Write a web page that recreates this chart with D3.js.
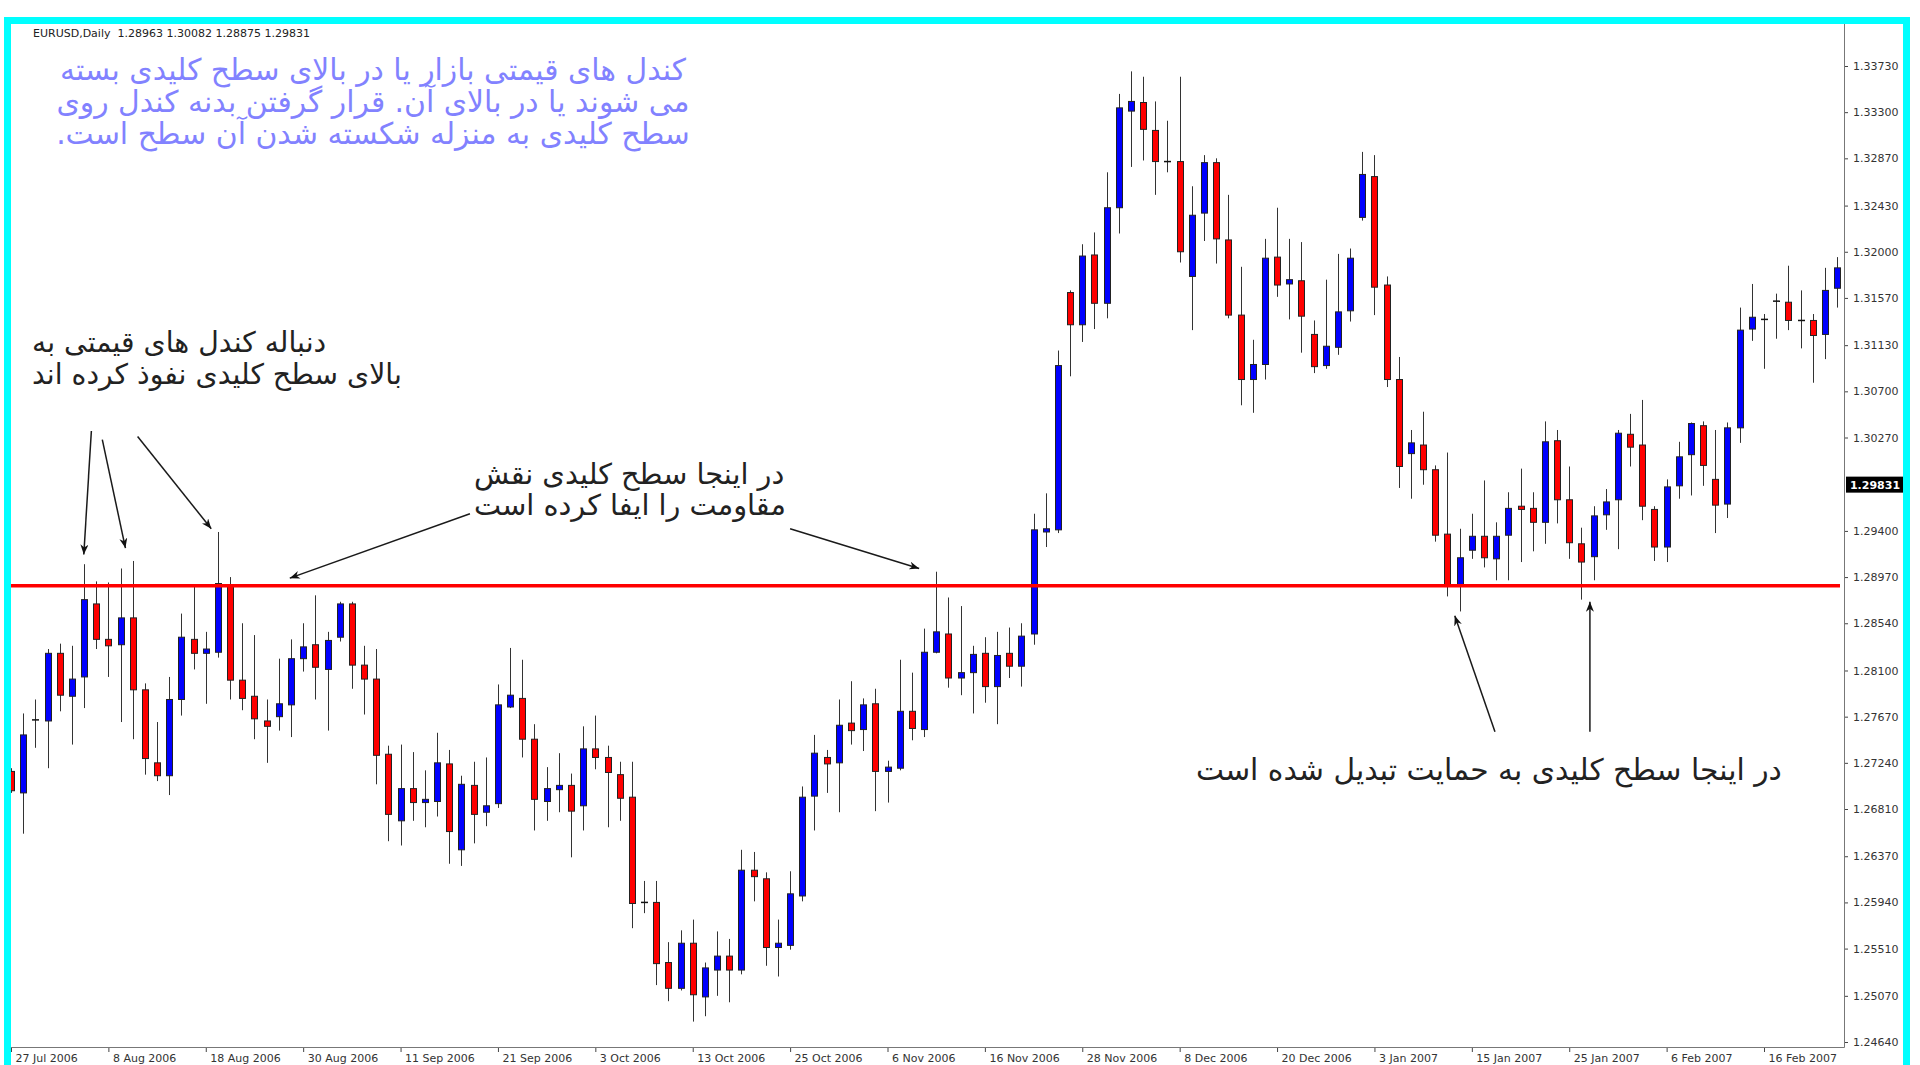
<!DOCTYPE html>
<html>
<head>
<meta charset="utf-8">
<script src="https://cdn.jsdelivr.net/npm/d3@7/dist/d3.min.js"></script>
<style>
html, body { margin: 0; padding: 0; background: #fff; }
svg { display: block; }
</style>
</head>
<body>
<div id="chart"></div>
<script>
// daily bars, 27 Jul 2006 .. 23 Feb 2007 (bar index 0..150)
var opens = [1.2716,1.2696,1.2764,1.2763,1.2826,1.2786,1.2804,1.2872,1.2839,1.2834,
	1.2859,1.2792,1.2724,1.2712,1.2783,1.2839,1.2826,1.2827,1.2889,1.2801,
	1.2786,1.2763,1.2767,1.2778,1.2821,1.2834,1.2811,1.2841,1.2872,1.2815,
	1.2802,1.2732,1.2670,1.2700,1.2687,1.2688,1.2723,1.2643,1.2703,1.2678,
	1.2686,1.2776,1.2784,1.2746,1.2688,1.2699,1.2703,1.2684,1.2737,1.2729,
	1.2713,1.2692,1.2594,1.2594,1.2538,1.2514,1.2556,1.2506,1.2531,1.2544,
	1.2531,1.2624,1.2616,1.2552,1.2554,1.2600,1.2693,1.2729,1.2724,1.2761,
	1.2755,1.2779,1.2716,1.2719,1.2772,1.2755,1.2827,1.2844,1.2803,1.2808,
	1.2826,1.2795,1.2826,1.2814,1.2844,1.2939,1.2941,1.3162,1.3132,1.3197,
	1.3152,1.3241,1.3331,1.3339,1.3313,1.3284,1.3284,1.3177,1.3236,1.3283,
	1.3211,1.3141,1.3081,1.3095,1.3195,1.3170,1.3173,1.3123,1.3094,1.3111,
	1.3145,1.3232,1.3270,1.3169,1.3081,1.3012,1.3020,1.2997,1.2937,1.2890,
	1.2922,1.2935,1.2914,1.2936,1.2963,1.2961,1.2948,1.3024,1.2969,1.2928,
	1.2916,1.2955,1.2969,1.3030,1.3020,1.2960,1.2925,1.2982,1.3011,1.3038,
	1.2988,1.2965,1.3036,1.3128,1.3137,1.3154,1.3153,1.3136,1.3136,1.3123,
	1.3166];
var highs = [1.2719,1.2770,1.2783,1.2830,1.2835,1.2833,1.2909,1.2893,1.2892,1.2905,
	1.2912,1.2798,1.2762,1.2804,1.2863,1.2888,1.2846,1.2939,1.2897,1.2854,
	1.2843,1.2783,1.2821,1.2839,1.2854,1.2880,1.2846,1.2874,1.2874,1.2833,
	1.2830,1.2740,1.2741,1.2734,1.2717,1.2752,1.2736,1.2712,1.2725,1.2729,
	1.2797,1.2831,1.2820,1.2760,1.2720,1.2733,1.2714,1.2758,1.2768,1.2740,
	1.2725,1.2725,1.2614,1.2614,1.2557,1.2568,1.2578,1.2538,1.2567,1.2560,
	1.2643,1.2641,1.2622,1.2578,1.2623,1.2702,1.2750,1.2736,1.2783,1.2800,
	1.2784,1.2793,1.2726,1.2820,1.2808,1.2849,1.2902,1.2878,1.2870,1.2833,
	1.2841,1.2846,1.2850,1.2854,1.2956,1.2975,1.3108,1.3164,1.3207,1.3218,
	1.3274,1.3347,1.3368,1.3363,1.3340,1.3322,1.3363,1.3261,1.3290,1.3287,
	1.3253,1.3186,1.3118,1.3212,1.3241,1.3212,1.3209,1.3136,1.3174,1.3198,
	1.3203,1.3293,1.3290,1.3177,1.3102,1.3034,1.3051,1.3001,1.3013,1.2942,
	1.2956,1.2987,1.2948,1.2976,1.2998,1.2976,1.3042,1.3034,1.3000,1.2943,
	1.2963,1.2979,1.3034,1.3049,1.3062,1.2963,1.2988,1.3023,1.3041,1.3042,
	1.3034,1.3041,1.3148,1.3170,1.3142,1.3161,1.3187,1.3164,1.3142,1.3185,
	1.3195];
var lows = [1.2696,1.2658,1.2738,1.2719,1.2772,1.2741,1.2775,1.2830,1.2804,1.2762,
	1.2746,1.2713,1.2707,1.2694,1.2768,1.2811,1.2779,1.2822,1.2783,1.2773,
	1.2746,1.2724,1.2754,1.2748,1.2809,1.2783,1.2754,1.2837,1.2793,1.2769,
	1.2704,1.2651,1.2647,1.2670,1.2664,1.2674,1.2630,1.2628,1.2649,1.2665,
	1.2682,1.2775,1.2729,1.2661,1.2670,1.2678,1.2636,1.2661,1.2718,1.2664,
	1.2670,1.2570,1.2584,1.2517,1.2502,1.2512,1.2483,1.2488,1.2507,1.2501,
	1.2527,1.2595,1.2535,1.2525,1.2550,1.2595,1.2661,1.2696,1.2678,1.2741,
	1.2735,1.2679,1.2687,1.2717,1.2745,1.2748,1.2826,1.2794,1.2787,1.2770,
	1.2780,1.2760,1.2803,1.2795,1.2834,1.2925,1.2938,1.3084,1.3116,1.3128,
	1.3138,1.3217,1.3279,1.3285,1.3253,1.3274,1.3190,1.3127,1.3210,1.3189,
	1.3138,1.3057,1.3050,1.3081,1.3158,1.3137,1.3106,1.3087,1.3091,1.3104,
	1.3135,1.3229,1.3141,1.3074,1.2980,1.2970,1.2983,1.2930,1.2879,1.2865,
	1.2914,1.2906,1.2894,1.2894,1.2911,1.2921,1.2928,1.2947,1.2914,1.2876,
	1.2894,1.2941,1.2923,1.3000,1.2950,1.2912,1.2911,1.2970,1.2973,1.2982,
	1.2938,1.2952,1.3022,1.3117,1.3091,1.3119,1.3127,1.3110,1.3078,1.3100,
	1.3148];
var closes = [1.2698,1.2750,1.2764,1.2826,1.2787,1.2802,1.2876,1.2839,1.2833,1.2859,
	1.2792,1.2728,1.2712,1.2783,1.2841,1.2826,1.2830,1.2891,1.2801,1.2784,
	1.2765,1.2758,1.2779,1.2821,1.2832,1.2813,1.2838,1.2872,1.2815,1.2802,
	1.2731,1.2676,1.2700,1.2687,1.2690,1.2724,1.2660,1.2704,1.2676,1.2684,
	1.2778,1.2787,1.2746,1.2690,1.2700,1.2703,1.2679,1.2737,1.2729,1.2715,
	1.2691,1.2593,1.2594,1.2537,1.2514,1.2556,1.2508,1.2533,1.2544,1.2531,
	1.2624,1.2618,1.2552,1.2556,1.2602,1.2692,1.2733,1.2723,1.2759,1.2754,
	1.2778,1.2716,1.2720,1.2772,1.2756,1.2827,1.2846,1.2803,1.2808,1.2825,
	1.2795,1.2824,1.2814,1.2842,1.2941,1.2942,1.3094,1.3132,1.3196,1.3152,
	1.3241,1.3334,1.3340,1.3314,1.3284,1.3284,1.3200,1.3234,1.3283,1.3212,
	1.3141,1.3081,1.3095,1.3194,1.3169,1.3174,1.3140,1.3093,1.3112,1.3144,
	1.3194,1.3272,1.3167,1.3081,1.3000,1.3022,1.2997,1.2936,1.2890,1.2915,
	1.2935,1.2915,1.2935,1.2961,1.2960,1.2948,1.3023,1.2969,1.2929,1.2911,
	1.2954,1.2967,1.3031,1.3018,1.2963,1.2925,1.2981,1.3009,1.3040,1.3001,
	1.2964,1.3036,1.3127,1.3139,1.3137,1.3154,1.3136,1.3136,1.3122,1.3164,
	1.3185];

var priceTicks = ["1.33730","1.33300","1.32870","1.32430","1.32000","1.31570","1.31130",
	"1.30700","1.30270","1.29400","1.28970","1.28540","1.28100","1.27670","1.27240",
	"1.26810","1.26370","1.25940","1.25510","1.25070","1.24640"];
var dateTicks = ["27 Jul 2006","8 Aug 2006","18 Aug 2006","30 Aug 2006","11 Sep 2006",
	"21 Sep 2006","3 Oct 2006","13 Oct 2006","25 Oct 2006","6 Nov 2006","16 Nov 2006",
	"28 Nov 2006","8 Dec 2006","20 Dec 2006","3 Jan 2007","15 Jan 2007","25 Jan 2007",
	"6 Feb 2007","16 Feb 2007"];
var dateTickBars = [0,8,16,24,32,40,48,56,64,72,80,88,96,104,112,120,128,136,144];

var keyLevel = 1.2889;
var lastPrice = 1.29831;
var header = "EURUSD,Daily  1.28963 1.30082 1.28875 1.29831";

var noteTop = ["کندل های قیمتی بازار یا در بالای سطح کلیدی بسته",
	"می شوند یا در بالای آن. قرار گرفتن بدنه کندل روی",
	"سطح کلیدی به منزله شکسته شدن آن سطح است."];
var noteWicks = ["دنباله کندل های قیمتی به", "بالای سطح کلیدی نفوذ کرده اند"];
var noteResist = ["در اینجا سطح کلیدی نقش", "مقاومت را ایفا کرده است"];
var noteSupport = ["در اینجا سطح کلیدی به حمایت تبدیل شده است"];

// arrows: tail -> tip, in bar index / price
var arrows = [
	{x1: 6.6, y1: 1.3033, x2: 5.98, y2: 1.2918},
	{x1: 7.5, y1: 1.3025, x2: 9.4, y2: 1.2924},
	{x1: 10.4, y1: 1.3028, x2: 16.45, y2: 1.2942},
	{x1: 37.7, y1: 1.2956, x2: 22.9, y2: 1.2896},
	{x1: 64.0, y1: 1.2942, x2: 74.6, y2: 1.2905},
	{x1: 121.9, y1: 1.2753, x2: 118.6, y2: 1.2861},
	{x1: 129.7, y1: 1.2753, x2: 129.7, y2: 1.2874}
];

var width = 1920, height = 1065;
var plot = {left: 11, right: 1844, top: 24, bottom: 1047};

var svg = d3.select("#chart").append("svg")
	.attr("width", width)
	.attr("height", height)
	.style("font-family", "'DejaVu Sans', sans-serif");

svg.append("rect").attr("width", width).attr("height", height).attr("fill", "#fff");

var x = d3.scaleLinear().domain([0, 144]).range([11, 1764]);
var y = d3.scaleLinear().domain([1.2464, 1.3373]).range([1042, 66]);

svg.append("clipPath").attr("id", "plotclip")
	.append("rect")
	.attr("x", plot.left).attr("y", plot.top)
	.attr("width", plot.right - plot.left).attr("height", plot.bottom - plot.top);

// axes
var yAxis = d3.axisRight(y)
	.tickValues(priceTicks.map(Number))
	.tickFormat(function(d, i) { return priceTicks[i]; })
	.tickSize(4)
	.tickSizeOuter(0)
	.tickPadding(5);
var gy = svg.append("g")
	.attr("class", "y_axis")
	.attr("transform", "translate(" + plot.right + ",0)")
	.call(yAxis);
gy.select(".domain").remove();
gy.selectAll("text").attr("font-size", 11).attr("fill", "#333").attr("font-family", "'DejaVu Sans', sans-serif");
gy.selectAll(".tick line").attr("stroke", "#444");

var xAxis = d3.axisBottom(x)
	.tickValues(dateTickBars)
	.tickFormat(function(d, i) { return dateTicks[i]; })
	.tickSize(5)
	.tickSizeOuter(0);
var gx = svg.append("g")
	.attr("class", "x_axis")
	.attr("transform", "translate(0," + plot.bottom + ")")
	.call(xAxis);
gx.select(".domain").remove();
gx.selectAll("text")
	.attr("text-anchor", "start")
	.attr("x", 4)
	.attr("y", 7)
	.attr("font-size", 11)
	.attr("fill", "#333")
	.attr("font-family", "'DejaVu Sans', sans-serif");
gx.selectAll(".tick line").attr("stroke", "#444");

svg.append("line")
	.attr("x1", plot.right + 0.5).attr("x2", plot.right + 0.5)
	.attr("y1", plot.top).attr("y2", plot.bottom + 0.5)
	.attr("stroke", "#777").attr("stroke-width", 1);
svg.append("line")
	.attr("x1", plot.left).attr("x2", plot.right + 0.5)
	.attr("y1", plot.bottom + 0.5).attr("y2", plot.bottom + 0.5)
	.attr("stroke", "#777").attr("stroke-width", 1);

// candles
var bars = d3.range(opens.length).map(function(i) {
	return {i: i, o: opens[i], h: highs[i], l: lows[i], c: closes[i]};
});
var g = svg.append("g").attr("clip-path", "url(#plotclip)");

g.selectAll("line.wick")
	.data(bars)
	.enter()
	.append("line")
	.attr("class", "wick")
	.attr("x1", function(d) { return Math.round(x(d.i)) + 0.5; })
	.attr("x2", function(d) { return Math.round(x(d.i)) + 0.5; })
	.attr("y1", function(d) { return y(d.h); })
	.attr("y2", function(d) { return y(d.l); })
	.attr("stroke", "#333")
	.attr("stroke-width", 1);

g.selectAll("rect.body")
	.data(bars.filter(function(d) { return d.o != d.c; }))
	.enter()
	.append("rect")
	.attr("class", "body")
	.attr("x", function(d) { return Math.round(x(d.i)) - 2.5; })
	.attr("y", function(d) { return y(Math.max(d.o, d.c)); })
	.attr("width", 6)
	.attr("height", function(d) { return Math.max(1, y(Math.min(d.o, d.c)) - y(Math.max(d.o, d.c))); })
	.attr("fill", function(d) { return d.c > d.o ? "#0000ff" : "#ff0000"; })
	.attr("stroke", "#222")
	.attr("stroke-width", 1);

g.selectAll("line.doji")
	.data(bars.filter(function(d) { return d.o == d.c; }))
	.enter()
	.append("line")
	.attr("class", "doji")
	.attr("x1", function(d) { return Math.round(x(d.i)) - 3; })
	.attr("x2", function(d) { return Math.round(x(d.i)) + 4; })
	.attr("y1", function(d) { return y(d.o); })
	.attr("y2", function(d) { return y(d.o); })
	.attr("stroke", "#111")
	.attr("stroke-width", 1.5);

// key level
g.append("line")
	.attr("x1", plot.left).attr("x2", plot.right - 4)
	.attr("y1", y(keyLevel)).attr("y2", y(keyLevel))
	.attr("stroke", "#ff0000")
	.attr("stroke-width", 3.5);

// last price label
svg.append("rect")
	.attr("x", plot.right + 2).attr("y", y(lastPrice) - 8)
	.attr("width", 58).attr("height", 16)
	.attr("fill", "#000");
svg.append("text")
	.attr("x", plot.right + 31).attr("y", y(lastPrice) + 4)
	.attr("text-anchor", "middle")
	.attr("font-size", 11)
	.attr("font-weight", "bold")
	.attr("fill", "#fff")
	.text(lastPrice.toFixed(5));

// header
svg.append("text")
	.attr("x", 33).attr("y", 37)
	.attr("font-size", 11)
	.attr("fill", "#222")
	.attr("xml:space", "preserve")
	.style("white-space", "pre")
	.text(header);

// arrows
var defs = svg.append("defs");
defs.append("marker")
	.attr("id", "head")
	.attr("markerUnits", "userSpaceOnUse")
	.attr("markerWidth", 11).attr("markerHeight", 8)
	.attr("refX", 10).attr("refY", 4)
	.attr("orient", "auto")
	.append("path")
	.attr("d", "M0,0 L10,4 L0,8 L3,4 Z")
	.attr("fill", "#111");

svg.selectAll("line.arrow")
	.data(arrows)
	.enter()
	.append("line")
	.attr("class", "arrow")
	.attr("x1", function(d) { return x(d.x1); })
	.attr("y1", function(d) { return y(d.y1); })
	.attr("x2", function(d) { return x(d.x2); })
	.attr("y2", function(d) { return y(d.y2); })
	.attr("stroke", "#1a1a1a")
	.attr("stroke-width", 1.5)
	.attr("marker-end", "url(#head)");

// persian notes: block fitted to a target width
function noteBlock(lines, opt) {
	var gt = svg.append("g");
	var base = 20;
	var texts = gt.selectAll("text")
		.data(lines)
		.enter()
		.append("text")
		.attr("direction", "rtl")
		.attr("text-anchor", "middle")
		.attr("font-size", base)
		.attr("fill", opt.color)
		.text(function(d) { return d; });
	var maxW = 0;
	texts.each(function() { maxW = Math.max(maxW, this.getComputedTextLength()); });
	var size = base * opt.width / maxW;
	texts.attr("font-size", size);
	texts.each(function(d, i) {
		var w = this.getComputedTextLength();
		var cx = opt.align == "center" ? opt.x : opt.x + w / 2;
		d3.select(this).attr("x", cx).attr("y", opt.y + i * opt.lead);
	});
}

noteBlock(noteTop, {x: 373, y: 80, lead: 32, width: 634, align: "center", color: "#8282ff"});
noteBlock(noteWicks, {x: 32, y: 352, lead: 32, width: 370, align: "left", color: "#222"});
noteBlock(noteResist, {x: 474, y: 484, lead: 31, width: 312, align: "left", color: "#222"});
noteBlock(noteSupport, {x: 1196, y: 780, lead: 30, width: 586, align: "left", color: "#222"});

// cyan frame
svg.append("rect")
	.attr("x", 7.5).attr("y", 20.5)
	.attr("width", 1899).attr("height", 1100)
	.attr("fill", "none")
	.attr("stroke", "#00ffff")
	.attr("stroke-width", 7);
</script>
</body>
</html>
